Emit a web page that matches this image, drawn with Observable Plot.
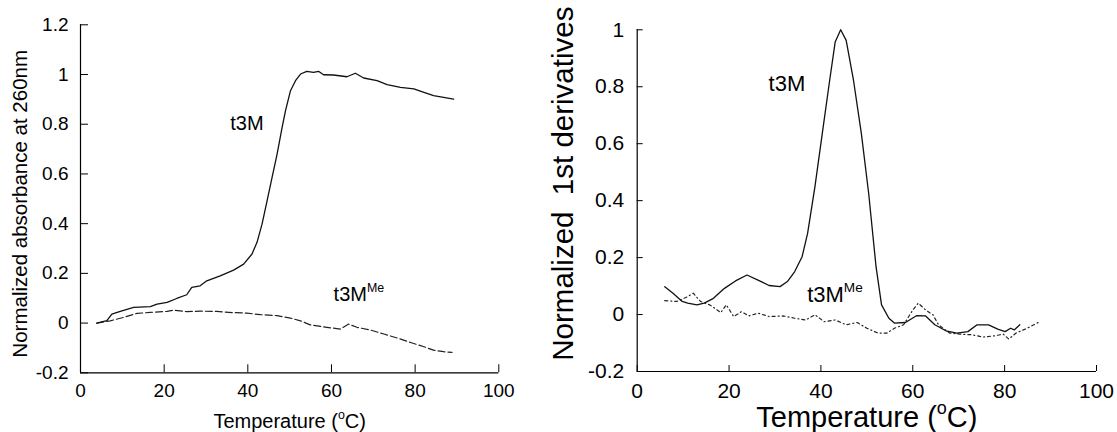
<!DOCTYPE html>
<html><head><meta charset="utf-8">
<script src="https://cdn.jsdelivr.net/npm/d3@7"></script>
<script src="https://cdn.jsdelivr.net/npm/@observablehq/plot@0.6"></script>
<style>
body{margin:0;background:#fff;}
#wrap{display:flex;width:1117px;height:432px;overflow:hidden;}
svg{display:block;flex:none}
</style></head><body><div id="wrap"></div>
<script>
// ---------- data ----------
const xTicks = [0, 20, 40, 60, 80, 100];
const leftYTicks = [-0.2, 0, 0.2, 0.4, 0.6, 0.8, 1, 1.2];
const rightYTicks = [-0.2, 0, 0.2, 0.4, 0.6, 0.8, 1];

// Left: normalized absorbance at 260 nm
const absT3M_T = [3.9,6.3,7.5,9.5,12.7,16.7,18.3,20.7,23,25.4,26.6,28.6,30.2,33.4,36.6,39,41,42.2,43.4,44.6,45.8,47,48.2,49,50.2,51.4,52.6,54.1,55.7,56.9,58.1,60.5,63.7,65.7,67.7,70.9,73.3,76.5,79.7,82.1,84.4,86.8,89.2];
const absT3M_Y = [0,0.01,0.036,0.047,0.063,0.066,0.076,0.083,0.099,0.114,0.144,0.15,0.17,0.19,0.213,0.237,0.278,0.325,0.398,0.492,0.586,0.68,0.787,0.854,0.935,0.975,1.002,1.013,1.009,1.013,0.999,0.998,0.991,1.005,0.986,0.975,0.959,0.948,0.942,0.928,0.915,0.908,0.901];
const absMe_T = [3.9,7.1,10.3,13.5,16.7,20.7,22.2,25.4,28.6,32.6,36.6,39.8,43,47,50.2,52.6,54.9,58.9,62.1,64.1,66.1,69.3,72.5,75.7,78.9,82.1,84.4,86.8,88.8];
const absMe_Y = [0,0.009,0.023,0.039,0.043,0.047,0.052,0.046,0.048,0.047,0.042,0.04,0.034,0.03,0.02,0.009,-0.007,-0.017,-0.024,-0.004,-0.017,-0.028,-0.044,-0.06,-0.078,-0.095,-0.109,-0.115,-0.118];

// Right: normalized 1st derivatives
const derT3M_T = [6.0,7.8,9.8,11,13,14.6,16.6,19,21.4,23.9,26.3,28.7,31.1,32.7,34.3,35.9,37.1,38.7,40.3,41.9,43.1,44.3,45.5,47.1,48.8,50.4,52,53.2,54.8,56,58.4,60.8,62.8,64.8,67.2,69.6,72,74,76.5,78.5,80.1,81.3,82.1,83.3];
const derT3M_Y = [0.098,0.075,0.046,0.04,0.034,0.04,0.057,0.092,0.118,0.139,0.121,0.102,0.098,0.116,0.151,0.203,0.285,0.449,0.636,0.822,0.957,1.0,0.963,0.822,0.636,0.425,0.168,0.034,-0.013,-0.03,-0.028,-0.004,-0.005,-0.036,-0.057,-0.065,-0.06,-0.036,-0.036,-0.051,-0.06,-0.048,-0.054,-0.036];
const derMe_T = [6,8.6,11,12.2,13.8,15.8,18.2,19.4,21,22.7,24.3,26.3,28.7,31.9,34.3,36.7,38.7,40.7,43.1,45.5,47.9,50,52.4,54.4,56,58,60,61.2,62.8,64.4,65.6,68,70.4,72.9,75.3,77.7,79.7,80.9,82.5,84.9,87.3];
const derMe_Y = [0.049,0.046,0.063,0.075,0.046,0.034,0.007,0.034,-0.007,0.01,-0.005,0.005,-0.007,-0.005,-0.013,-0.019,-0.001,-0.025,-0.019,-0.036,-0.028,-0.048,-0.065,-0.065,-0.048,-0.036,0.016,0.04,0.016,-0.001,-0.036,-0.065,-0.069,-0.071,-0.079,-0.075,-0.069,-0.086,-0.065,-0.048,-0.028];

// In-plot labels (data coordinates)
const leftLabelText = ["t3M", "t3M^{Me}"];
const leftLabelT = [35.8, 60.5];
const leftLabelY = [0.804, 0.116];
const rightLabelText = ["t3M", "t3M^{Me}"];
const rightLabelT = [28.6, 37.0];
const rightLabelY = [0.809, 0.07];

const leftYTitle = "Normalized absorbance at 260nm";
const rightYTitle = "Normalized\u00a0 1st derivatives";
const xTitle = "Temperature (^{o}C)";

// ---------- helpers ----------
const zip = (xs, ys) => xs.map((x, i) => ({x, y: ys[i]}));
const fmt = d => String(+d.toFixed(2));
const FONT = 'Arial, "Liberation Sans", sans-serif';

function supify(svg) {
  d3.select(svg).selectAll("text").each(function () {
    const s = this.textContent;
    if (!s.includes("^{")) return;
    const el = d3.select(this);
    el.text(null);
    const parts = s.split(/\^\{([^}]*)\}/);
    let raised = false;
    parts.forEach((p, i) => {
      if (p === "") return;
      const isSup = i % 2 === 1;
      const ts = el.append("tspan").text(p);
      if (isSup) {
        ts.attr("font-size", "0.62em").attr("dy", "-0.73em");
        raised = true;
      } else if (raised) {
        ts.attr("dy", "0.45em");
        raised = false;
      }
    });
  });
}

function panel(o) {
  const svg = Plot.plot({
    width: o.width, height: 432,
    marginLeft: o.ml, marginRight: o.mr, marginTop: o.mt, marginBottom: o.mb,
    style: {fontFamily: FONT, fontSize: o.tickFont + "px", color: "#000", background: "#fff", overflow: "visible"},
    x: {domain: [0, 100]},
    y: {domain: [o.yTicks[0], o.yTicks[o.yTicks.length - 1]]},
    marks: [
      Plot.axisY(o.yTicks, {tickSize: -o.tickLen, tickPadding: o.tickLen + o.yGap, tickFormat: fmt, label: null, fontSize: o.tickFont}),
      Plot.axisX(xTicks, {tickSize: -o.tickLen, tickPadding: o.tickLen + o.xGap, tickFormat: fmt, label: null, fontSize: o.tickFont}),
      Plot.ruleX([0], {stroke: "#000", strokeWidth: 1.2}),
      Plot.ruleY([o.yTicks[0]], {stroke: "#000", strokeWidth: 1.2}),
      Plot.line(o.me, {x: "x", y: "y", stroke: "#222", strokeWidth: 1.2, strokeDasharray: o.meDash}),
      Plot.line(o.t3m, {x: "x", y: "y", stroke: "#111", strokeWidth: 1.3}),
      Plot.text(o.labels, {x: "x", y: "y", text: "text", textAnchor: "start", fontSize: o.labelFont, fill: "#000"}),
      Plot.text([o.yTitle], {text: d => d, frameAnchor: "left", textAnchor: "middle", lineAnchor: "middle", rotate: -90, dx: o.yTitleDx, dy: o.yTitleDy, fontSize: o.yTitleFont, fill: "#000"}),
      Plot.text([xTitle], {text: d => d, frameAnchor: "bottom", textAnchor: "middle", lineAnchor: "middle", dy: o.xTitleDy, fontSize: o.xTitleFont, fill: "#000"})
    ]
  });
  supify(svg);
  return svg;
}

const wrap = document.getElementById("wrap");
wrap.append(panel({
  width: 545, ml: 80, mr: 46.7, mt: 24.3, mb: 59.7,
  yTicks: leftYTicks, tickFont: 19, tickLen: 8, yGap: 12, xGap: 11,
  t3m: zip(absT3M_T, absT3M_Y), me: zip(absMe_T, absMe_Y), meDash: "7,3",
  labels: leftLabelText.map((t, i) => ({text: t, x: leftLabelT[i], y: leftLabelY[i]})), labelFont: 20,
  yTitle: leftYTitle, yTitleDx: -60, yTitleDy: 5, yTitleFont: 20.5,
  xTitleDy: 49, xTitleFont: 20
}));
wrap.append(panel({
  width: 572, ml: 91.7, mr: 21, mt: 29.3, mb: 61,
  yTicks: rightYTicks, tickFont: 21, tickLen: 6, yGap: 13, xGap: 12,
  t3m: zip(derT3M_T, derT3M_Y), me: zip(derMe_T, derMe_Y), meDash: "3,3,1,3",
  labels: rightLabelText.map((t, i) => ({text: t, x: rightLabelT[i], y: rightLabelY[i]})), labelFont: 22,
  yTitle: rightYTitle, yTitleDx: -73.7, yTitleDy: -17, yTitleFont: 29.5,
  xTitleDy: 46.5, xTitleFont: 29
}));
</script>
</body></html>
